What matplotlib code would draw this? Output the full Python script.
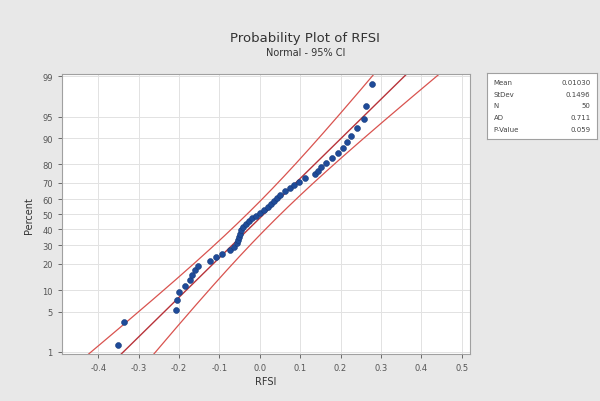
import numpy as np
import matplotlib
import matplotlib.pyplot as plt
from statistics import NormalDist

matplotlib.use('Agg')

# sorted RFSI values (50 points)
rfsi = [-0.351, -0.336, -0.207, -0.205, -0.200, -0.185, -0.173, -0.168, -0.160, -0.153,
        -0.123, -0.109, -0.094, -0.074, -0.064, -0.057, -0.054, -0.052, -0.049, -0.047,
        -0.042, -0.035, -0.027, -0.020, -0.010, 0.000, 0.010, 0.020, 0.027, 0.035,
        0.042, 0.049, 0.062, 0.074, 0.084, 0.096, 0.111, 0.136, 0.143, 0.151,
        0.163, 0.178, 0.193, 0.207, 0.215, 0.227, 0.240, 0.259, 0.264, 0.277]
x_ticks = [-0.4, -0.3, -0.2, -0.1, 0.0, 0.1, 0.2, 0.3, 0.4, 0.5]
pct_ticks = [1, 5, 10, 20, 30, 40, 50, 60, 70, 80, 90, 95, 99]
stat_names = ['Mean', 'StDev', 'N', 'AD', 'P-Value']
stat_values = ['0.01030', '0.1496', '50', '0.711', '0.059']


def main() -> None:
    nd = NormalDist()
    data = np.sort(np.array(rfsi))
    n = len(data)
    ranks = np.arange(1, n + 1)
    z_pts = np.array([nd.inv_cdf(p) for p in (ranks - 0.3) / (n + 0.4)])

    mu = 0.0103
    sigma = 0.1496
    zz = np.linspace(-3, 3, 300)
    fit = mu + zz * sigma
    se = sigma / np.sqrt(n) * np.sqrt(1 + zz ** 2 / 2)
    lo = fit - 1.96 * se
    hi = fit + 1.96 * se

    fig = plt.figure(figsize=(6, 4.02), dpi=100, facecolor='#e8e8e8')
    ax = fig.add_axes([0.103, 0.117, 0.68, 0.696])
    ax.set_facecolor('white')

    ax.plot(lo, zz, color='#d9534f', lw=0.9)
    ax.plot(hi, zz, color='#d9534f', lw=0.9)
    ax.plot(fit, zz, color='#b8333a', lw=1.0)
    ax.scatter(data, z_pts, s=18, color='#1f4b99', zorder=3, edgecolors='#163a7a', linewidths=0.4)

    ax.set_xlim(-0.49, 0.52)
    ax.set_ylim(-2.36, 2.36)
    ax.set_xticks(x_ticks)
    ax.set_xticklabels([f'{v:.1f}' for v in x_ticks])
    ax.set_yticks([nd.inv_cdf(p / 100) for p in pct_ticks])
    ax.set_yticklabels([str(p) for p in pct_ticks])
    ax.tick_params(labelsize=6, colors='#555555', length=3, width=0.6)
    ax.grid(True, color='#e2e2e2', lw=0.7)
    ax.set_axisbelow(True)
    for sp in ax.spines.values():
        sp.set_color('#a0a0a0')
        sp.set_linewidth(0.8)

    ax.set_xlabel('RFSI', fontsize=7, color='#333333', labelpad=3)
    ax.set_ylabel('Percent', fontsize=7, color='#333333', labelpad=6)

    fig.text(0.508, 0.905, 'Probability Plot of RFSI', ha='center', va='center', fontsize=9.5, color='#333333')
    fig.text(0.51, 0.868, 'Normal - 95% CI', ha='center', va='center', fontsize=7, color='#333333')

    # statistics box
    box = fig.add_axes([0.812, 0.652, 0.183, 0.163])
    box.set_xticks([])
    box.set_yticks([])
    for sp in box.spines.values():
        sp.set_color('#a0a0a0')
        sp.set_linewidth(0.8)
    for i, (name, val) in enumerate(zip(stat_names, stat_values)):
        yy = 0.87 - i * 0.18
        box.text(0.06, yy, name, fontsize=5, va='center', color='#444444')
        box.text(0.94, yy, val, fontsize=5, va='center', ha='right', color='#444444')

    fig.savefig('out.png', dpi=100, facecolor=fig.get_facecolor())


if __name__ == '__main__':
    main()
